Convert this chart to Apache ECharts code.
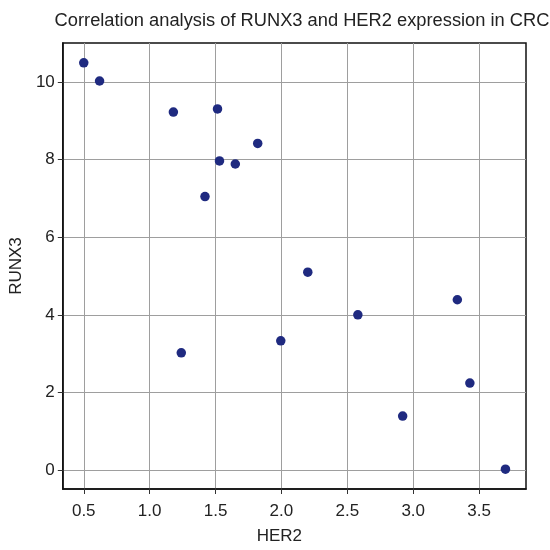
<!DOCTYPE html>
<html>
<head>
<meta charset="utf-8">
<script src="https://cdn.jsdelivr.net/npm/echarts@6/dist/echarts.min.js"></script>
<style>
  html, body { margin: 0; padding: 0; background: #fff; }
  #chart { width: 550px; height: 550px; }
</style>
</head>
<body>
<div id="chart"></div>
<script>
// values
const her2 = [0.50, 0.62, 1.18, 1.515, 1.82, 1.53, 1.65, 1.42, 1.24, 1.995, 2.20, 2.58, 2.92, 3.335, 3.43, 3.70]
const runx3 = [10.5, 10.03, 9.23, 9.31, 8.42, 7.97, 7.89, 7.05, 3.02, 3.33, 5.10, 4.0, 1.39, 4.39, 2.24, 0.02]
const xTicks = [0.5, 1.0, 1.5, 2.0, 2.5, 3.0, 3.5]
const yTicks = [0, 2, 4, 6, 8, 10]

const points = her2.map((x, i) => [x, runx3[i]])
const font = 'Liberation Sans, Arial, sans-serif'

const chart = echarts.init(document.getElementById('chart'))
chart.setOption({
    animation: false,
    backgroundColor: '#fff',
    title: {
        text: 'Correlation analysis of RUNX3 and HER2 expression in CRC',
        left: 297,
        textAlign: 'center',
        top: 7,
        textStyle: { fontFamily: font, fontSize: 18.3, fontWeight: 'normal', color: '#222' }
    },
    grid: {
        left: 62,
        right: 24,
        top: 43,
        bottom: 56,
        show: true,
        borderColor: '#111',
        borderWidth: 1.5
    },
    xAxis: {
        type: 'value',
        min: 0.341,
        max: 3.856,
        name: 'HER2',
        nameLocation: 'middle',
        nameGap: 39,
        nameTextStyle: { fontFamily: font, fontSize: 17, color: '#222', padding: [0, 30, 0, 0] },
        axisLine: { onZero: false, lineStyle: { color: '#111', width: 1.5 } },
        axisTick: { show: true, length: 5, customValues: xTicks, lineStyle: { color: '#333' } },
        axisLabel: {
            customValues: xTicks,
            fontFamily: font, fontSize: 17, color: '#222', margin: 14,
            formatter: v => v.toFixed(1)
        },
        splitLine: { show: true, lineStyle: { color: '#9e9e9e', width: 1 } }
    },
    yAxis: {
        type: 'value',
        min: -0.49,
        max: 11.01,
        name: 'RUNX3',
        nameLocation: 'middle',
        nameGap: 29,
        nameTextStyle: { fontFamily: font, fontSize: 17, color: '#222' },
        axisLine: { show: true, onZero: false, lineStyle: { color: '#111', width: 1.5 } },
        axisTick: { show: true, length: 5, customValues: yTicks, lineStyle: { color: '#333' } },
        axisLabel: {
            customValues: yTicks,
            fontFamily: font, fontSize: 17, color: '#222', margin: 8
        },
        splitLine: { show: true, lineStyle: { color: '#9e9e9e', width: 1 } }
    },
    series: [
        {
            type: 'scatter',
            data: points,
            symbolSize: 9.5,
            itemStyle: { color: '#1f2a80', opacity: 1 }
        }
    ]
})
</script>
</body>
</html>
